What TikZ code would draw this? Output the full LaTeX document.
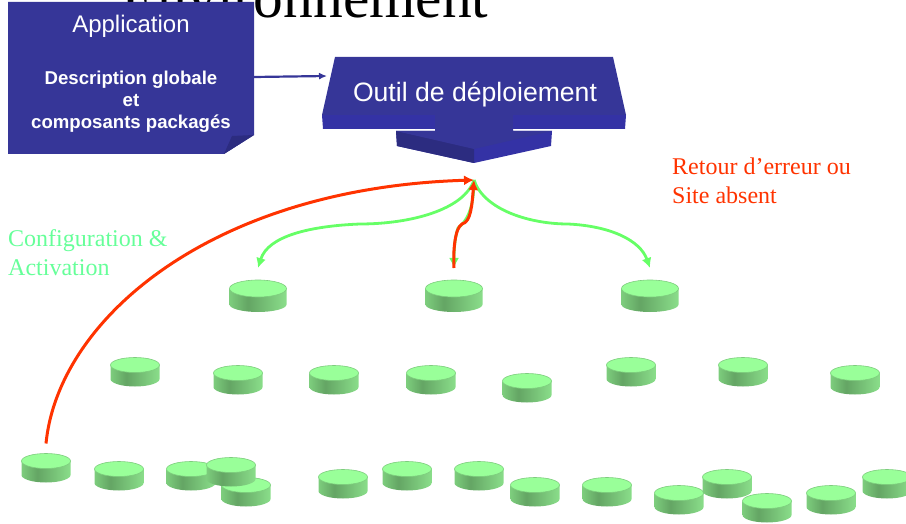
\documentclass[tikz,border=0pt]{standalone}
\usepackage{fontspec}
\setmainfont{Liberation Serif}
\setsansfont{Liberation Sans}
\usetikzlibrary{arrows.meta, shapes.geometric}
\definecolor{bluebox}{RGB}{54,54,152}
\definecolor{bluefold}{RGB}{44,44,128}
\definecolor{bluelight}{RGB}{52,50,165}
\definecolor{redline}{RGB}{255,51,0}
\definecolor{greenline}{RGB}{102,255,102}
\definecolor{greentext}{RGB}{102,255,153}
\definecolor{disctop}{RGB}{153,255,153}
\definecolor{discedge}{RGB}{125,205,125}
\definecolor{discdark}{RGB}{100,165,100}
\definecolor{disclight}{RGB}{138,222,138}
\pgfdeclarehorizontalshading{discbody}{100bp}{color(0bp)=(discedge); color(25bp)=(discedge); color(41bp)=(discdark); color(75bp)=(disclight); color(100bp)=(disclight)}
\tikzset{
    disc/.style={ellipse, fill=disctop, draw=discedge, line width=.6pt, inner sep=0pt, outer sep=0pt, minimum width=49pt, minimum height=15pt},
    bigdisc/.style={disc, minimum width=57pt, minimum height=17pt},
    redarrow/.style={draw=redline, line width=3pt, -{Latex[length=10pt,width=10pt]}},
    greenarrow/.style={draw=greenline, line width=2.8pt, -{Latex[length=10pt,width=10pt]}},
    note/.style={font=\fontsize{24}{29}\selectfont, align=left, anchor=north west, inner sep=0pt},
}
\newcommand{\discside}[4]{\shade[shading=discbody] ({#1-#3},#2) -- ({#1-#3},{#2+#4}) arc (180:360:#3pt and 7.5pt) -- ({#1+#3},#2) -- cycle;}
\begin{document}
\begin{tikzpicture}[x=1pt,y=-1pt]
        \useasboundingbox (0,0) rectangle (906,524);
        \node (title) at (305,-2) [font=\fontsize{59.5}{60}\selectfont, inner sep=0pt] {Environnement};

        % application box
        \fill[bluebox] (8,2) -- (254,2) -- (254,135) -- (224,154) -- (8,154) -- cycle;
        \fill[bluefold] (224,154) -- (232,136) -- (254,135) -- cycle;
        \node (app) at (131,26) [text=white, font=\sffamily\fontsize{24}{28}\selectfont, inner sep=0pt] {Application};
        \node (desc) at (131,102) [text=white, font=\sffamily\bfseries\fontsize{18.6}{22}\selectfont, align=center, inner sep=0pt] {Description globale\\et\\composants packagés};

        % deployment tool
        \fill[bluelight] (396,131) -- (552,131) -- (551,146) -- (474,163) -- (397,146) -- cycle;
        \fill[bluefold] (396,131) -- (474,148) -- (474,163) -- (397,146) -- cycle;
        \fill[bluebox] (396,131) -- (435,131) -- (435,129) -- (513,129) -- (513,131) -- (552,131) -- (474,149) -- cycle;
        \fill[bluelight] (322,115) -- (626,115) -- (625,129) -- (323,129) -- cycle;
        \fill[bluebox] (335,57) -- (613,57) -- (626,115) -- (322,115) -- cycle;
        \fill[bluebox] (435,115) rectangle (513,133);
        \node (tool) at (475,94) [text=white, font=\sffamily\fontsize{26.6}{30}\selectfont, inner sep=0pt] {Outil de déploiement};
        \coordinate (appout) at (254,77);
        \coordinate (toolin) at (327,76);
        \coordinate (hub) at (474,180);

        \node (config) at (8,229) [note, text=greentext] {Configuration \&\\Activation};
        \node (retour) at (672,158) [note, text=redline] {Retour d’erreur ou\\Site absent};

        % discs
        \foreach \n/\x/\y in {b1/258/288.5, b2/454/288.5, b3/650/288.5} {
            \discside{\x}{\y}{28.5}{16}
            \node[bigdisc] (\n) at (\x,\y) {};
        }
        \foreach \n/\x/\y in {m1/135/365, m2/238/373, m3/334/373, m4/431/373, m5/527/381, m6/631/365, m7/743/365, m8/855/373,
                s1/46/461, s2/119/469, s3/191/469, s4/246/485, s5/231/465, s6/343/477, s7/407/469, s8/479/469, s9/535/485,
                s10/607/485, s11/679/493, s12/727/477, s13/767/501, s14/831/493, s15/887/477} {
            \discside{\x}{\y}{24.5}{14}
            \node[disc] (\n) at (\x,\y) {};
        }

        \draw[-{Latex[length=8pt,width=7pt]}, draw=bluebox, line width=2.2pt] (appout) -- (toolin);
        \draw[greenarrow] (hub) .. controls (464,210) and (410,224) .. (360,224) .. controls (310,226) and (268,236) .. ([yshift=12pt]b1.north);
        \draw[greenarrow] (hub) .. controls (484,210) and (530,224) .. (568,224) .. controls (610,226) and (640,240) .. ([yshift=12pt]b3.north);
        \draw[greenarrow] (hub) .. controls (474,210) and (466,222) .. (458,228) .. controls (454,240) and (454,255) .. ([yshift=12pt]b2.north);
        \draw[redarrow] ([yshift=12pt]b2.north) .. controls (453,250) and (455,228) .. (462,224) .. controls (471,222) and (472,205) .. (hub);
        \draw[redarrow] ([yshift=10pt]s1.north) .. controls (58,320) and (210,188) .. (hub);
    \end{tikzpicture}
\end{document}
